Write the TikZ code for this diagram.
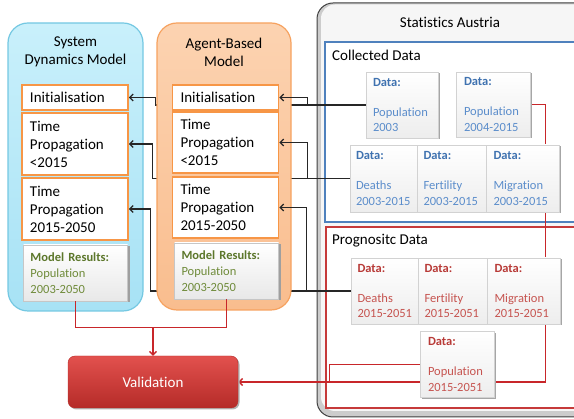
\documentclass[tikz,border=0pt]{standalone}
\usepackage{fontspec}
\setmainfont{Carlito}[Ligatures=NoCommon]
\usetikzlibrary{arrows.meta,shadows,calc}

\definecolor{sdtop}{HTML}{C9F0FB}
\definecolor{sdbot}{HTML}{A7E2F5}
\definecolor{sdedge}{HTML}{74C8E2}
\definecolor{abmtop}{HTML}{FCD3B1}
\definecolor{abmbot}{HTML}{F9BD8E}
\definecolor{abmedge}{HTML}{F6A25F}
\definecolor{boxorange}{HTML}{F79646}
\definecolor{headblue}{HTML}{3F72B0}
\definecolor{bodyblue}{HTML}{5B8DCB}
\definecolor{colblue}{HTML}{4F81BD}
\definecolor{headred}{HTML}{B83A37}
\definecolor{bodyred}{HTML}{C65450}
\definecolor{progred}{HTML}{C63A3A}
\definecolor{wirered}{HTML}{C8262A}
\definecolor{headolive}{HTML}{5C772B}
\definecolor{bodyolive}{HTML}{6F8B3A}
\definecolor{valtop}{HTML}{E2514E}
\definecolor{valbot}{HTML}{B52B28}

\pgfdeclarelayer{back}
\pgfdeclarelayer{wires}
\pgfdeclarelayer{abmlayer}
\pgfsetlayers{back,wires,abmlayer,main}

\newcommand{\cdata}{\textcolor{headblue}{\textbf{Data:}}\\[14.5pt]}
\newcommand{\pdata}{\textcolor{headred}{\textbf{Data:}}\\[14.5pt]}
\newcommand{\mres}{\textcolor{headolive}{\textbf{Model Results:}}\\}

\tikzset{
	title/.style={inner sep=0pt,font=\fontsize{15}{18}\selectfont},
	stepbox/.style={draw=boxorange,line width=1.6pt,fill=white,text width=90pt,
		align=left,inner xsep=8pt,inner ysep=2pt,font=\fontsize{15}{18}\selectfont},
	resbox/.style={draw=gray!45,top color=white,bottom color=gray!18,text width=90pt,
		align=left,inner xsep=7pt,minimum height=56pt,text=bodyolive,
		font=\fontsize{12.5}{16}\selectfont,
		drop shadow={shadow xshift=2pt,shadow yshift=-1.5pt,fill=gray!75,opacity=1}},
	databox/.style={draw=gray!35,top color=white,bottom color=gray!14,text width=58pt,
		align=left,inner xsep=6pt,font=\fontsize{12.5}{15.5}\selectfont,
		drop shadow={shadow xshift=2pt,shadow yshift=-1.5pt,fill=gray!70,opacity=1}},
	colbox/.style={databox,text=bodyblue},
	progbox/.style={databox,text=bodyred},
	valbox/.style={draw=valbot,rounded corners=7pt,top color=valtop,bottom color=valbot,
		minimum width=170pt,minimum height=52pt,text=white,font=\fontsize{15}{18}\selectfont,
		drop shadow={shadow xshift=1.5pt,shadow yshift=-1.5pt,fill=gray!60,opacity=1}},
	wire/.style={draw=black!85,line width=1.3pt},
	redwire/.style={draw=wirered,line width=1.3pt}
}

\begin{document}
\begin{tikzpicture}[x=1pt,y=-1pt,>={Straight Barb[length=3.5pt,width=7pt]}]

\useasboundingbox (0,0) rectangle (574,419);

%
% Rahmen
%
\begin{pgfonlayer}{back}
	\draw[draw=sdedge,line width=1.2pt,top color=sdtop,bottom color=sdbot,rounded corners=20pt]
		(8,23) rectangle (143,311);
	\draw[draw=black!75,line width=1pt,fill=gray!40,rounded corners=16pt]
		(317,3) rectangle (600,417);
	\fill[gray!7,rounded corners=14pt] (321,4.5) rectangle (600,411);
	\draw[draw=colblue,line width=1.2pt,fill=white] (325,42) rectangle (600,222);
	\draw[draw=progred,line width=1.2pt,fill=white] (326,227) rectangle (600,408);
\end{pgfonlayer}
\begin{pgfonlayer}{abmlayer}
	\draw[draw=abmedge,line width=1.2pt,top color=abmtop,bottom color=abmbot,rounded corners=20pt]
		(157,23) rectangle (291,310);
\end{pgfonlayer}

\node[title,align=center] (sdtitle) at (75.5,52) {System\\Dynamics Model};
\node[title,align=center] (abmtitle) at (224,52) {Agent-Based\\Model};
\node[title] (statstitle) at (450,22) {Statistics Austria};
\node[title,anchor=west] (coltitle) at (332,55) {Collected Data};
\node[title,anchor=west] (progtitle) at (332,241) {Prognositc Data};

%
% System Dynamics Modell
%
\node[stepbox,minimum height=25pt] (sdinit) at (75,97.5) {Initialisation};
\node[stepbox,minimum height=62pt] (sdtp1) at (75,144) {Time\\Propagation\\<2015};
\node[stepbox,minimum height=62pt] (sdtp2) at (75,209) {Time\\Propagation\\2015-2050};
\node[resbox] (sdres) at (75.5,273) {\mres Population\\2003-2050};

%
% Agentenbasiertes Modell
%
\node[stepbox,minimum height=25pt] (abminit) at (225.5,97.5) {Initialisation};
\node[stepbox,minimum height=61pt] (abmtp1) at (225.5,142.5) {Time\\Propagation\\<2015};
\node[stepbox,minimum height=61pt] (abmtp2) at (225.5,207.5) {Time\\Propagation\\2015-2050};
\node[resbox] (abmres) at (226.5,271) {\mres Population\\2003-2050};

%
% Daten
%
\node[colbox,minimum width=72pt,minimum height=66pt] (pop03) at (402,105) {\cdata Population\\2003};
\node[colbox,minimum width=74pt,minimum height=65pt] (pop0415) at (493,104.5) {\cdata Population\\2004-2015};
\node[colbox,minimum width=68pt,minimum height=67pt] (deaths03) at (385,178.5) {\cdata Deaths\\2003-2015};
\node[colbox,minimum width=67pt,minimum height=67pt] (fert03) at (452.5,178.5) {\cdata Fertility\\2003-2015};
\node[colbox,minimum width=73pt,minimum height=67pt] (mig03) at (522.5,178.5) {\cdata Migration\\2003-2015};

\node[progbox,minimum width=67pt,minimum height=66pt] (deaths15) at (386.5,291) {\pdata Deaths\\2015-2051};
\node[progbox,minimum width=67pt,minimum height=66pt] (fert15) at (453.5,291) {\pdata Fertility\\2015-2051};
\node[progbox,minimum width=73pt,minimum height=66pt] (mig15) at (523.5,291) {\pdata Migration\\2015-2051};
\node[progbox,minimum width=74pt,minimum height=66pt] (popfut) at (457,364.5) {\pdata Population\\2015-2051};

\node[valbox] (val) at (153,382) {Validation};

%
% Verbindungen
%
\begin{pgfonlayer}{wires}
	\draw[wire,->] (pop03.west) -| ([xshift=27pt]sdinit.east) -- (sdinit.east);
	\draw[wire,->] (deaths03.west) -| ([xshift=24pt]sdtp1.east) -- (sdtp1.east);
	\draw[wire,->] (deaths15.west) -| ([xshift=22pt]sdtp2.east) -- (sdtp2.east);
	\draw[redwire] (pop0415.east) -| ([xshift=22pt]mig15.north);
	\draw[redwire] ([xshift=22pt]mig15.south) |- (val.east);
	\draw[redwire,->] (popfut.west) -- ++(-90,0) |- (val.east);
\end{pgfonlayer}

\coordinate (tap1) at ([xshift=28pt]abminit.east |- pop03.west);
\coordinate (tap2) at ([xshift=28pt]abmtp1.east |- deaths03.west);
\coordinate (tap3) at ([xshift=27pt]abmtp2.east |- deaths15.west);
\draw[wire,->] (tap1) |- (abminit.east);
\draw[wire,->] (tap2) |- (abmtp1.east);
\draw[wire,->] (tap3) |- (abmtp2.east);

\coordinate (merge) at ([yshift=28pt]val.north);
\draw[redwire] (sdres.south) |- (merge) -| (abmres.south);
\draw[redwire,->] (merge) -- (val.north);

\end{tikzpicture}
\end{document}
